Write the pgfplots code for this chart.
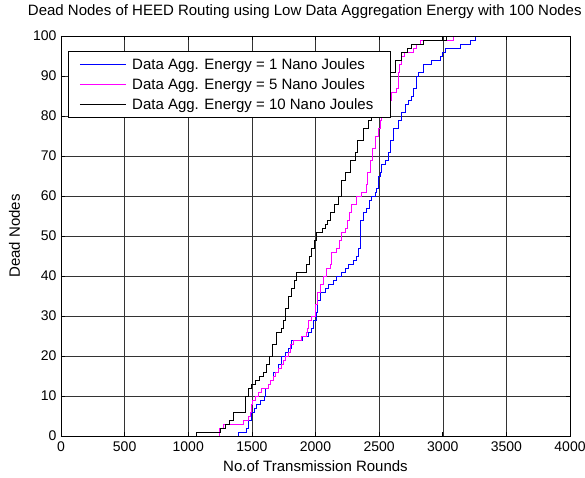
\documentclass[border=0pt]{standalone}
\usepackage{fontspec}
\setmainfont{Liberation Sans}
\usepackage{pgfplots}
\pgfplotsset{compat=1.18}
\definecolor{mblue}{rgb}{0,0,1}
\definecolor{mmag}{rgb}{1,0,1}
\begin{document}
\begin{tikzpicture}
\begin{axis}[
  scale only axis,
  width=509pt, height=400pt,
  xmin=0, xmax=4000, ymin=0, ymax=100,
  xtick={0,500,...,4000}, ytick={0,10,...,100},
  /pgf/number format/assume math mode=true,
  scaled x ticks=false,
  xticklabel style={/pgf/number format/1000 sep={}},
  tick label style={font=\fontsize{14}{16}\selectfont},
  label style={font=\fontsize{15}{18}\selectfont},
  title style={font=\fontsize{15}{18}\selectfont, at={(axis description cs:0.479,1)}, anchor=base, yshift=14pt},
  title={Dead Nodes of HEED Routing using Low Data Aggregation Energy with 100 Nodes},
  xlabel={No.of Transmission Rounds},
  ylabel={Dead Nodes},
  xlabel style={at={(axis description cs:0.5,0)}, anchor=base, yshift=-36pt},
  ylabel style={at={(axis description cs:0,0.5)}, anchor=base, yshift=41pt},
  grid=major,
  grid style={black!80, line width=0.5pt},
  axis line style={black, line width=0.8pt},
  tick style={black, line width=0.6pt},
  tick align=inside,
  major tick length=4pt,
  xtick pos=both, ytick pos=both,
  xticklabel style={yshift=-2pt},
  yticklabel style={xshift=-1pt},
  legend style={at={(axis description cs:0.0143,0.962)}, anchor=north west,
    font=\fontsize{15}{18}\selectfont, draw=black, line width=0.6pt,
    inner xsep=9pt, inner ysep=5pt, row sep=3.5pt, fill=white},
  legend cell align=left,
  legend image code/.code={\path (-5pt,0pt) (47pt,0pt); \draw[#1] (-3pt,0pt) -- (43pt,0pt);},
  const plot,
  every axis plot/.append style={line width=0.6pt},
]
\addplot[mblue] coordinates {
(0,0) (1393,1) (1459,2) (1472,4) (1499,6) (1517,7) (1538,8) (1564,9) (1595,10) (1603,12)
(1629,13) (1648,14) (1669,16) (1708,18) (1734,20) (1760,21) (1790,22) (1813,24) (1899,25)
(1944,26) (1970,27) (1983,29) (2004,31) (2014,34) (2035,36) (2075,37) (2101,38) (2140,39)
(2166,40) (2205,41) (2232,42) (2258,43) (2297,44) (2318,45) (2337,47) (2350,50) (2355,54)
(2376,56) (2397,57) (2423,59) (2441,60) (2467,61) (2481,62) (2494,65) (2507,66) (2520,68)
(2546,69) (2572,71) (2585,74) (2611,77) (2651,79) (2677,81) (2703,83) (2729,84) (2750,85)
(2769,87) (2795,90) (2808,91) (2847,93) (2913,94) (2978,95) (2995,96) (3018,97) (3135,98)
(3214,99) (3253,100) (4000,100)};
\addlegendentry{Data Agg. Energy = 1 Nano Joules}
\addplot[mmag] coordinates {
(0,0) (1244,2) (1275,3) (1433,4) (1470,5) (1485,6) (1495,8) (1506,9) (1525,10) (1551,11)
(1577,12) (1627,13) (1645,14) (1665,15) (1682,16) (1705,17) (1730,18) (1745,19) (1765,20)
(1785,21) (1805,23) (1825,24) (1892,25) (1926,26) (1935,27) (1941,29) (1970,30) (1996,33)
(2012,36) (2035,38) (2059,40) (2088,42) (2114,43) (2127,46) (2166,47) (2185,49) (2205,51)
(2232,52) (2246,54) (2265,56) (2285,58) (2318,60) (2363,61) (2397,63) (2407,66) (2428,69)
(2450,72) (2467,75) (2494,77) (2510,79) (2520,81) (2545,82) (2559,83) (2572,84) (2598,86)
(2638,87) (2651,91) (2660,93) (2677,95) (2700,96) (2769,97) (2795,98) (2820,99) (3083,100)
(4000,100)};
\addlegendentry{Data Agg. Energy = 5 Nano Joules}
\addplot[black] coordinates {
(0,0) (1066,1) (1255,2) (1290,3) (1320,4) (1352,6) (1446,10) (1470,12) (1499,13) (1530,14)
(1560,15) (1588,16) (1610,18) (1635,20) (1660,23) (1690,26) (1734,27) (1745,29) (1765,32)
(1785,35) (1810,37) (1830,39) (1852,41) (1930,43) (1950,45) (1970,47) (1990,49) (2004,51)
(2056,52) (2074,53) (2095,54) (2114,56) (2150,58) (2177,60) (2205,64) (2231,66) (2271,69)
(2310,71) (2326,74) (2373,77) (2412,79) (2440,83) (2480,87) (2520,89) (2554,91) (2625,94)
(2677,96) (2719,97) (2756,98) (2845,99) (3030,100) (4000,100)};
\addlegendentry{Data Agg. Energy = 10 Nano Joules\hspace*{6pt}}
\end{axis}
\pgfresetboundingbox
\useasboundingbox (-61pt,-42pt) rectangle (524pt,436pt);
\end{tikzpicture}
\end{document}
